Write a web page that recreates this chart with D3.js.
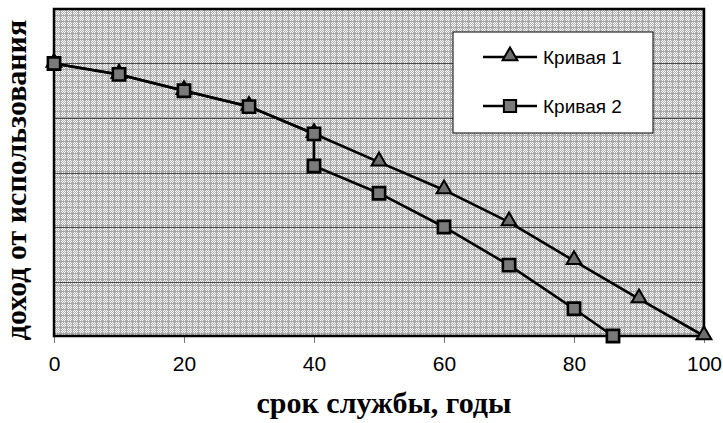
<!DOCTYPE html>
<html>
<head>
<meta charset="utf-8">
<script src="https://cdnjs.cloudflare.com/ajax/libs/d3/7.8.5/d3.min.js"></script>
<style>
    body { margin: 0; background: #fff; }
    svg { display: block; }
    .tick text { font-family: "Liberation Sans", Arial, sans-serif; }
</style>
</head>
<body>
<svg width="723" height="423"></svg>
<script>
// годы службы и доход (условные единицы, ось без подписей)
var xTicks = [0, 20, 40, 60, 80, 100];
var yTicks = [1, 2, 3, 4, 5];

var curve1X = [0, 10, 20, 30, 40, 50, 60, 70, 80, 90, 100];
var curve1Y = [5.0, 4.8, 4.5, 4.21, 3.71, 3.19, 2.68, 2.09, 1.38, 0.68, 0];

var curve2X = [0, 10, 20, 30, 40, 40, 50, 60, 70, 80, 86];
var curve2Y = [5.0, 4.8, 4.5, 4.21, 3.71, 3.12, 2.62, 2.0, 1.30, 0.5, 0];

var seriesNames = ["Кривая 1", "Кривая 2"];

function zip(xs, ys) {
    return xs.map(function (x, i) { return {x: x, y: ys[i]}; });
}

function makeChart() {
    var svg = d3.select("svg"),
        margin = {top: 9, right: 19, bottom: 87, left: 54},
        width = +svg.attr("width") - margin.left - margin.right,
        height = +svg.attr("height") - margin.top - margin.bottom;

    var x = d3.scaleLinear().domain([0, 100]).range([0, width]),
        y = d3.scaleLinear().domain([0, 6]).range([height, 0]);

    // фон: точечная штриховка как в Excel
    var defs = svg.append("defs");
    var chk = defs.append("pattern")
        .attr("id", "chk")
        .attr("patternUnits", "userSpaceOnUse")
        .attr("width", 2).attr("height", 2);
    chk.append("rect").attr("width", 2).attr("height", 2).attr("fill", "#fafafa");
    chk.append("rect").attr("width", 1).attr("height", 1).attr("fill", "#b2b2b2");
    chk.append("rect").attr("x", 1).attr("y", 1).attr("width", 1).attr("height", 1).attr("fill", "#b2b2b2");

    var bg = defs.append("pattern")
        .attr("id", "bg")
        .attr("patternUnits", "userSpaceOnUse")
        .attr("width", 6).attr("height", 6);
    bg.append("rect").attr("width", 6).attr("height", 6).attr("fill", "url(#chk)");
    bg.append("rect").attr("width", 6).attr("height", 1).attr("fill", "#a8a8a8");
    bg.append("rect").attr("width", 1).attr("height", 6).attr("fill", "#a8a8a8");

    var g = svg.append("g")
        .attr("transform", "translate(" + margin.left + "," + margin.top + ")");

    g.append("rect")
        .attr("width", width)
        .attr("height", height)
        .attr("fill", "url(#bg)")
        .attr("shape-rendering", "crispEdges");

    // горизонтальная сетка
    g.append("g")
        .attr("class", "grid")
        .selectAll("line")
        .data(yTicks)
        .enter().append("line")
        .attr("x1", 0)
        .attr("x2", width)
        .attr("y1", function (d) { return Math.round(y(d)) + 0.5; })
        .attr("y2", function (d) { return Math.round(y(d)) + 0.5; })
        .attr("stroke", "#4a4a4a")
        .attr("stroke-width", 1);

    // ось X
    var xAxis = g.append("g")
        .attr("class", "axis axis--x")
        .attr("transform", "translate(0," + height + ")")
        .call(d3.axisBottom(x).tickValues(xTicks).tickSize(7).tickPadding(13).tickFormat(d3.format("d")));
    xAxis.select(".domain").remove();
    xAxis.selectAll(".tick line").attr("stroke", "#777").attr("stroke-width", 1);
    xAxis.selectAll(".tick text")
        .attr("font-size", 21)
        .attr("fill", "#000");

    // рамка области построения
    g.append("rect")
        .attr("width", width)
        .attr("height", height)
        .attr("fill", "none")
        .attr("stroke", "#000")
        .attr("stroke-width", 2.5);

    var line = d3.line()
        .x(function (d) { return x(d.x); })
        .y(function (d) { return y(d.y); });

    var data1 = zip(curve1X, curve1Y),
        data2 = zip(curve2X, curve2Y);

    g.append("path")
        .datum(data1)
        .attr("fill", "none")
        .attr("stroke", "#000")
        .attr("stroke-width", 2.6)
        .attr("d", line);

    g.append("path")
        .datum(data2)
        .attr("fill", "none")
        .attr("stroke", "#000")
        .attr("stroke-width", 2.6)
        .attr("d", line);

    var tri = d3.symbol().type(d3.symbolTriangle).size(95);
    var sq = d3.symbol().type(d3.symbolSquare).size(150);

    g.selectAll(".tri")
        .data(data1)
        .enter().append("path")
        .attr("class", "tri")
        .attr("transform", function (d) { return "translate(" + x(d.x) + "," + (y(d.y) - 1) + ")"; })
        .attr("d", tri)
        .attr("fill", "#6e6e6e")
        .attr("stroke", "#000")
        .attr("stroke-width", 2);

    g.selectAll(".sq")
        .data(data2)
        .enter().append("path")
        .attr("class", "sq")
        .attr("transform", function (d) { return "translate(" + x(d.x) + "," + y(d.y) + ")"; })
        .attr("d", sq)
        .attr("fill", "#7a7a7a")
        .attr("stroke", "#000")
        .attr("stroke-width", 2.6);

    // легенда
    var legend = svg.append("g")
        .attr("transform", "translate(453,32)");
    legend.append("rect")
        .attr("width", 200)
        .attr("height", 101)
        .attr("fill", "#fff")
        .attr("stroke", "#000")
        .attr("stroke-width", 1);

    var rows = legend.selectAll(".row")
        .data(seriesNames)
        .enter().append("g")
        .attr("class", "row")
        .attr("transform", function (d, i) { return "translate(0," + (25 + i * 49) + ")"; });

    rows.append("line")
        .attr("x1", 30).attr("x2", 84)
        .attr("stroke", "#000")
        .attr("stroke-width", 2.6);

    rows.append("path")
        .attr("transform", function (d, i) { return "translate(57," + (i === 0 ? -1 : 0) + ")"; })
        .attr("d", function (d, i) { return i === 0 ? tri() : sq(); })
        .attr("fill", function (d, i) { return i === 0 ? "#6e6e6e" : "#7a7a7a"; })
        .attr("stroke", "#000")
        .attr("stroke-width", 2);

    rows.append("text")
        .attr("x", 90)
        .attr("y", 7)
        .attr("font-family", "'Liberation Sans', Arial, sans-serif")
        .attr("font-size", 19)
        .attr("fill", "#000")
        .text(function (d) { return d; });

    // подписи осей
    svg.append("text")
        .attr("x", 384)
        .attr("y", 413)
        .attr("text-anchor", "middle")
        .attr("font-family", "'Liberation Serif', 'Times New Roman', serif")
        .attr("font-weight", "bold")
        .attr("font-size", 30)
        .attr("fill", "#000")
        .text("срок службы, годы");

    svg.append("text")
        .attr("transform", "translate(26,180) rotate(-90)")
        .attr("text-anchor", "middle")
        .attr("font-family", "'Liberation Serif', 'Times New Roman', serif")
        .attr("font-weight", "bold")
        .attr("font-size", 30)
        .attr("fill", "#000")
        .text("доход от использования");
}

makeChart();
</script>
</body>
</html>
